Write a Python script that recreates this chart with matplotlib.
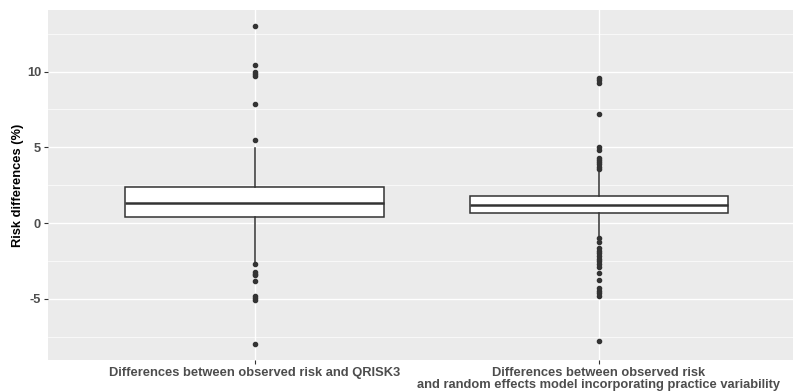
import matplotlib.pyplot as plt
from matplotlib.ticker import MultipleLocator, FuncFormatter

plt.rcParams["font.family"] = ["Liberation Sans", "DejaVu Sans"]

# box summaries (risk differences, %)
labels = ["Differences between observed risk and QRISK3",
          "Differences between observed risk\nand random effects model incorporating practice variability"]
q1 = [0.37, 0.68]
med = [1.29, 1.16]
q3 = [2.35, 1.76]
whislo = [-2.58, -0.94]
whishi = [4.98, 3.40]
fliers = [
    [13.03, 10.44, 9.98, 9.85, 9.69, 7.87, 5.48,
     -2.70, -3.24, -3.36, -3.42, -3.82, -4.85, -4.98, -5.11, -7.96],
    [9.54, 9.41, 9.25, 7.17, 5.02, 4.82, 4.32, 4.19, 4.03, 3.88, 3.73, 3.55,
     -1.01, -1.23, -1.67, -1.84, -1.99, -2.17, -2.35, -2.52, -2.70, -2.91,
     -3.29, -3.75, -4.30, -4.47, -4.65, -4.85, -7.78],
]

stats = []
for i in range(len(labels)):
    stats.append({"q1": q1[i], "med": med[i], "q3": q3[i],
                  "whislo": whislo[i], "whishi": whishi[i],
                  "fliers": fliers[i], "label": labels[i]})

fig = plt.figure(figsize=(7.93, 3.91), dpi=100)
ax = fig.add_axes([0.0605, 0.079, 0.9395, 0.895])
ax.set_facecolor("#EBEBEB")

ax.bxp(stats, positions=[1, 2], widths=0.75, patch_artist=True,
       boxprops=dict(facecolor="white", edgecolor="#333333", linewidth=1.1),
       medianprops=dict(color="#333333", linewidth=1.8),
       whiskerprops=dict(color="#333333", linewidth=1.1),
       capprops=dict(linewidth=0),
       flierprops=dict(marker="o", markersize=3.0, markerfacecolor="#333333",
                       markeredgecolor="#333333", linestyle="none"),
       zorder=3)

ax.set_xlim(0.4, 2.564)
ax.set_ylim(-9.05, 14.05)
ax.yaxis.set_major_locator(MultipleLocator(5))
ax.yaxis.set_minor_locator(MultipleLocator(2.5))
ax.yaxis.set_major_formatter(FuncFormatter(lambda v, p: "%g" % v))
ax.grid(which="major", color="white", linewidth=1.0, zorder=0)
ax.grid(which="minor", axis="y", color="white", linewidth=0.5, zorder=0)
ax.set_axisbelow(True)
for s in ax.spines.values():
    s.set_visible(False)

ax.set_xticks([1, 2])
ax.set_xticklabels(labels, fontsize=9.3, fontweight="bold", color="#4D4D4D",
                   linespacing=0.95)
ax.tick_params(axis="both", which="major", length=3, color="#333333",
               labelsize=9.3, labelcolor="#4D4D4D", pad=2)
ax.tick_params(axis="y", which="minor", length=0)
for t in ax.get_yticklabels():
    t.set_fontweight("bold")
ax.set_ylabel("Risk differences (%)", fontsize=9.3, fontweight="bold",
              color="black", labelpad=2)

fig.savefig("out.png", dpi=100)
